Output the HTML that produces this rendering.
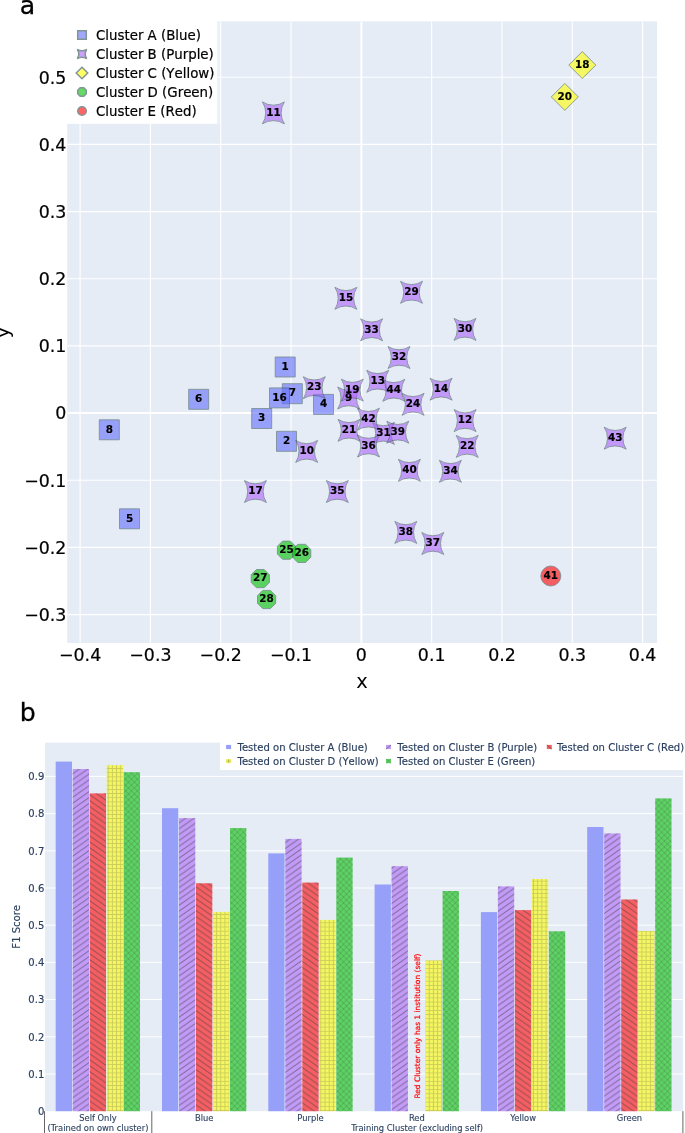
<!DOCTYPE html>
<html lang="en"><head><meta charset="utf-8"><title>Cluster figure</title>
<style>html,body{margin:0;padding:0;background:#fff}body{width:685px;height:1133px;overflow:hidden}svg{display:block}text{font-family:"DejaVu Sans","Liberation Sans",sans-serif}.pl{font-size:25.2px;fill:#000;stroke:#000;stroke-width:0.3px}.ta{font-size:17.4px;fill:#000;stroke:#000;stroke-width:0.2px}.tt{font-size:19.5px;fill:#000}.la{font-size:13.35px;fill:#000;font-kerning:none;stroke:#000;stroke-width:0.2px}.ml{font-size:10.4px;font-weight:bold;fill:#000;text-anchor:middle;stroke:#000;stroke-width:0.15px}.tb{font-size:10.05px;fill:#2a3f5f;stroke:#2a3f5f;stroke-width:0.15px}.xb{font-size:8.35px;fill:#2a3f5f;text-anchor:middle;stroke:#2a3f5f;stroke-width:0.12px}.an{font-size:7.46px;fill:#ff0000;stroke:#ff0000;stroke-width:0.18px}</style></head><body>
<svg width="685" height="1133" viewBox="0 0 685 1133">
<rect width="685" height="1133" fill="#fff"/>
<defs>
<clipPath id="ca"><rect x="67.2" y="21.4" width="589.8" height="621.6"/></clipPath>
<pattern id="p1" patternUnits="userSpaceOnUse" width="8.4" height="5.89" x="5.80" y="1.92"><path d="M-2.1,1.47l4.2,-2.94M0,5.89L8.4,0M6.3,7.36l4.2,-2.94" stroke="#444" stroke-opacity="0.6" stroke-width="1" fill="none"/></pattern>
<pattern id="p2" patternUnits="userSpaceOnUse" width="8.4" height="5.89" x="6.20" y="5.81"><path d="M6.3,-1.47l4.2,2.94M0,0L8.4,5.89M-2.1,4.42l4.2,2.94" stroke="#444" stroke-opacity="0.6" stroke-width="1" fill="none"/></pattern>
<pattern id="p3" patternUnits="userSpaceOnUse" width="4.17" height="4.17" x="1.85" y="3.34"><path d="M2.085,0V4.17M0,2.085H4.17" stroke="#444" stroke-opacity="0.24" stroke-width="1" fill="none"/></pattern>
<pattern id="p4" patternUnits="userSpaceOnUse" width="5.89" height="5.89" x="1.87" y="1.75"><path d="M0,0L5.89,5.89M0,5.89L5.89,0" stroke="#444" stroke-opacity="0.42" stroke-width="0.65" fill="none"/></pattern>
</defs>
<text class="pl" x="19.7" y="13.7">a</text>
<text class="pl" x="19.7" y="721.4">b</text>
<rect x="67.2" y="21.4" width="589.8" height="621.6" fill="#E5ECF6"/>
<g stroke="#fff" stroke-width="1.1" clip-path="url(#ca)">
<line x1="80.1" x2="80.1" y1="21.4" y2="643.0"/>
<line x1="150.4" x2="150.4" y1="21.4" y2="643.0"/>
<line x1="220.7" x2="220.7" y1="21.4" y2="643.0"/>
<line x1="291.05" x2="291.05" y1="21.4" y2="643.0"/>
<line x1="431.66" x2="431.66" y1="21.4" y2="643.0"/>
<line x1="501.97" x2="501.97" y1="21.4" y2="643.0"/>
<line x1="572.3" x2="572.3" y1="21.4" y2="643.0"/>
<line x1="642.6" x2="642.6" y1="21.4" y2="643.0"/>
<line x1="67.2" x2="657.0" y1="77.3" y2="77.3"/>
<line x1="67.2" x2="657.0" y1="144.4" y2="144.4"/>
<line x1="67.2" x2="657.0" y1="211.6" y2="211.6"/>
<line x1="67.2" x2="657.0" y1="278.8" y2="278.8"/>
<line x1="67.2" x2="657.0" y1="345.9" y2="345.9"/>
<line x1="67.2" x2="657.0" y1="480.2" y2="480.2"/>
<line x1="67.2" x2="657.0" y1="547.4" y2="547.4"/>
<line x1="67.2" x2="657.0" y1="614.6" y2="614.6"/>
<line x1="361.4" x2="361.4" y1="21.4" y2="643.0" stroke-width="2"/>
<line x1="67.2" x2="657.0" y1="412.9" y2="412.9" stroke-width="2"/>
</g>
<g fill="#636EFA" stroke="#2F4F4F" stroke-width="0.85">
<path transform="translate(285.2,367.0)" d="M10,10H-10V-10H10Z" opacity="0.6"/>
<path transform="translate(286.5,441.3)" d="M10,10H-10V-10H10Z" opacity="0.6"/>
<path transform="translate(261.7,418.5)" d="M10,10H-10V-10H10Z" opacity="0.6"/>
<path transform="translate(323.5,404.4)" d="M10,10H-10V-10H10Z" opacity="0.6"/>
<path transform="translate(129.5,518.8)" d="M10,10H-10V-10H10Z" opacity="0.6"/>
<path transform="translate(198.7,399.3)" d="M10,10H-10V-10H10Z" opacity="0.6"/>
<path transform="translate(292.3,393.7)" d="M10,10H-10V-10H10Z" opacity="0.6"/>
<path transform="translate(109.3,429.8)" d="M10,10H-10V-10H10Z" opacity="0.6"/>
<path transform="translate(279.5,397.9)" d="M10,10H-10V-10H10Z" opacity="0.6"/>
</g>
<g class="ml">
<text x="285.2" y="369.75">1</text>
<text x="286.5" y="444.05">2</text>
<text x="261.7" y="421.25">3</text>
<text x="323.5" y="407.15">4</text>
<text x="129.5" y="521.55">5</text>
<text x="198.7" y="402.05">6</text>
<text x="292.3" y="396.45">7</text>
<text x="109.3" y="432.55">8</text>
<text x="279.5" y="400.65">16</text>
</g>
<g fill="#AB63FA" stroke="#2F4F4F" stroke-width="0.85">
<path transform="translate(348.7,398.0)" d="M-11,-11A20,20 0 0 1 -11,11A20,20 0 0 1 11,11A20,20 0 0 1 11,-11A20,20 0 0 1 -11,-11Z" opacity="0.6"/>
<path transform="translate(306.7,451.4)" d="M-11,-11A20,20 0 0 1 -11,11A20,20 0 0 1 11,11A20,20 0 0 1 11,-11A20,20 0 0 1 -11,-11Z" opacity="0.6"/>
<path transform="translate(273.4,112.9)" d="M-11,-11A20,20 0 0 1 -11,11A20,20 0 0 1 11,11A20,20 0 0 1 11,-11A20,20 0 0 1 -11,-11Z" opacity="0.6"/>
<path transform="translate(465.1,420.6)" d="M-11,-11A20,20 0 0 1 -11,11A20,20 0 0 1 11,11A20,20 0 0 1 11,-11A20,20 0 0 1 -11,-11Z" opacity="0.6"/>
<path transform="translate(377.7,381.3)" d="M-11,-11A20,20 0 0 1 -11,11A20,20 0 0 1 11,11A20,20 0 0 1 11,-11A20,20 0 0 1 -11,-11Z" opacity="0.6"/>
<path transform="translate(441.1,389.2)" d="M-11,-11A20,20 0 0 1 -11,11A20,20 0 0 1 11,11A20,20 0 0 1 11,-11A20,20 0 0 1 -11,-11Z" opacity="0.6"/>
<path transform="translate(345.9,298.3)" d="M-11,-11A20,20 0 0 1 -11,11A20,20 0 0 1 11,11A20,20 0 0 1 11,-11A20,20 0 0 1 -11,-11Z" opacity="0.6"/>
<path transform="translate(255.4,491.5)" d="M-11,-11A20,20 0 0 1 -11,11A20,20 0 0 1 11,11A20,20 0 0 1 11,-11A20,20 0 0 1 -11,-11Z" opacity="0.6"/>
<path transform="translate(352.3,390.1)" d="M-11,-11A20,20 0 0 1 -11,11A20,20 0 0 1 11,11A20,20 0 0 1 11,-11A20,20 0 0 1 -11,-11Z" opacity="0.6"/>
<path transform="translate(349.0,430.3)" d="M-11,-11A20,20 0 0 1 -11,11A20,20 0 0 1 11,11A20,20 0 0 1 11,-11A20,20 0 0 1 -11,-11Z" opacity="0.6"/>
<path transform="translate(467.2,446.4)" d="M-11,-11A20,20 0 0 1 -11,11A20,20 0 0 1 11,11A20,20 0 0 1 11,-11A20,20 0 0 1 -11,-11Z" opacity="0.6"/>
<path transform="translate(314.3,387.7)" d="M-11,-11A20,20 0 0 1 -11,11A20,20 0 0 1 11,11A20,20 0 0 1 11,-11A20,20 0 0 1 -11,-11Z" opacity="0.6"/>
<path transform="translate(413.1,404.3)" d="M-11,-11A20,20 0 0 1 -11,11A20,20 0 0 1 11,11A20,20 0 0 1 11,-11A20,20 0 0 1 -11,-11Z" opacity="0.6"/>
<path transform="translate(411.5,292.3)" d="M-11,-11A20,20 0 0 1 -11,11A20,20 0 0 1 11,11A20,20 0 0 1 11,-11A20,20 0 0 1 -11,-11Z" opacity="0.6"/>
<path transform="translate(465.0,329.4)" d="M-11,-11A20,20 0 0 1 -11,11A20,20 0 0 1 11,11A20,20 0 0 1 11,-11A20,20 0 0 1 -11,-11Z" opacity="0.6"/>
<path transform="translate(383.4,433.4)" d="M-11,-11A20,20 0 0 1 -11,11A20,20 0 0 1 11,11A20,20 0 0 1 11,-11A20,20 0 0 1 -11,-11Z" opacity="0.6"/>
<path transform="translate(399.0,357.5)" d="M-11,-11A20,20 0 0 1 -11,11A20,20 0 0 1 11,11A20,20 0 0 1 11,-11A20,20 0 0 1 -11,-11Z" opacity="0.6"/>
<path transform="translate(371.6,329.8)" d="M-11,-11A20,20 0 0 1 -11,11A20,20 0 0 1 11,11A20,20 0 0 1 11,-11A20,20 0 0 1 -11,-11Z" opacity="0.6"/>
<path transform="translate(450.4,471.3)" d="M-11,-11A20,20 0 0 1 -11,11A20,20 0 0 1 11,11A20,20 0 0 1 11,-11A20,20 0 0 1 -11,-11Z" opacity="0.6"/>
<path transform="translate(337.3,491.5)" d="M-11,-11A20,20 0 0 1 -11,11A20,20 0 0 1 11,11A20,20 0 0 1 11,-11A20,20 0 0 1 -11,-11Z" opacity="0.6"/>
<path transform="translate(368.5,446.0)" d="M-11,-11A20,20 0 0 1 -11,11A20,20 0 0 1 11,11A20,20 0 0 1 11,-11A20,20 0 0 1 -11,-11Z" opacity="0.6"/>
<path transform="translate(432.8,543.5)" d="M-11,-11A20,20 0 0 1 -11,11A20,20 0 0 1 11,11A20,20 0 0 1 11,-11A20,20 0 0 1 -11,-11Z" opacity="0.6"/>
<path transform="translate(405.8,532.4)" d="M-11,-11A20,20 0 0 1 -11,11A20,20 0 0 1 11,11A20,20 0 0 1 11,-11A20,20 0 0 1 -11,-11Z" opacity="0.6"/>
<path transform="translate(397.8,432.2)" d="M-11,-11A20,20 0 0 1 -11,11A20,20 0 0 1 11,11A20,20 0 0 1 11,-11A20,20 0 0 1 -11,-11Z" opacity="0.6"/>
<path transform="translate(409.4,470.3)" d="M-11,-11A20,20 0 0 1 -11,11A20,20 0 0 1 11,11A20,20 0 0 1 11,-11A20,20 0 0 1 -11,-11Z" opacity="0.6"/>
<path transform="translate(368.4,419.2)" d="M-11,-11A20,20 0 0 1 -11,11A20,20 0 0 1 11,11A20,20 0 0 1 11,-11A20,20 0 0 1 -11,-11Z" opacity="0.6"/>
<path transform="translate(615.2,438.2)" d="M-11,-11A20,20 0 0 1 -11,11A20,20 0 0 1 11,11A20,20 0 0 1 11,-11A20,20 0 0 1 -11,-11Z" opacity="0.6"/>
<path transform="translate(393.8,390.3)" d="M-11,-11A20,20 0 0 1 -11,11A20,20 0 0 1 11,11A20,20 0 0 1 11,-11A20,20 0 0 1 -11,-11Z" opacity="0.6"/>
</g>
<g class="ml">
<text x="348.7" y="400.75">9</text>
<text x="306.7" y="454.15">10</text>
<text x="273.4" y="115.65">11</text>
<text x="465.1" y="423.35">12</text>
<text x="377.7" y="384.05">13</text>
<text x="441.1" y="391.95">14</text>
<text x="345.9" y="301.05">15</text>
<text x="255.4" y="494.25">17</text>
<text x="352.3" y="392.85">19</text>
<text x="349.0" y="433.05">21</text>
<text x="467.2" y="449.15">22</text>
<text x="314.3" y="390.45">23</text>
<text x="413.1" y="407.05">24</text>
<text x="411.5" y="295.05">29</text>
<text x="465.0" y="332.15">30</text>
<text x="383.4" y="436.15">31</text>
<text x="399.0" y="360.25">32</text>
<text x="371.6" y="332.55">33</text>
<text x="450.4" y="474.05">34</text>
<text x="337.3" y="494.25">35</text>
<text x="368.5" y="448.75">36</text>
<text x="432.8" y="546.25">37</text>
<text x="405.8" y="535.15">38</text>
<text x="397.8" y="434.95">39</text>
<text x="409.4" y="473.05">40</text>
<text x="368.4" y="421.95">42</text>
<text x="615.2" y="440.95">43</text>
<text x="393.8" y="393.05">44</text>
</g>
<g fill="#FFFF00" stroke="#2F4F4F" stroke-width="0.85">
<path transform="translate(582.3,65.05)" d="M13.5,0L0,13.5L-13.5,0L0,-13.5Z" opacity="0.6"/>
<path transform="translate(564.8,96.9)" d="M13.5,0L0,13.5L-13.5,0L0,-13.5Z" opacity="0.6"/>
</g>
<g class="ml">
<text x="582.3" y="67.8">18</text>
<text x="564.8" y="99.65">20</text>
</g>
<g fill="#00C000" stroke="#2F4F4F" stroke-width="0.85">
<path transform="translate(286.5,550.2)" d="M-3.86,-9.1H3.86L9.1,-3.86V3.86L3.86,9.1H-3.86L-9.1,3.86V-3.86Z" opacity="0.6"/>
<path transform="translate(301.7,553.4)" d="M-3.86,-9.1H3.86L9.1,-3.86V3.86L3.86,9.1H-3.86L-9.1,3.86V-3.86Z" opacity="0.6"/>
<path transform="translate(260.3,578.6)" d="M-3.86,-9.1H3.86L9.1,-3.86V3.86L3.86,9.1H-3.86L-9.1,3.86V-3.86Z" opacity="0.6"/>
<path transform="translate(266.6,599.5)" d="M-3.86,-9.1H3.86L9.1,-3.86V3.86L3.86,9.1H-3.86L-9.1,3.86V-3.86Z" opacity="0.6"/>
</g>
<g class="ml">
<text x="286.5" y="552.95">25</text>
<text x="301.7" y="556.15">26</text>
<text x="260.3" y="581.35">27</text>
<text x="266.6" y="602.25">28</text>
</g>
<g fill="#FF0000" stroke="#2F4F4F" stroke-width="0.85">
<path transform="translate(550.8,576.0)" d="M10,0A10,10 0 1 1 0,-10A10,10 0 0 1 10,0Z" opacity="0.6"/>
</g>
<g class="ml">
<text x="550.8" y="578.75">41</text>
</g>
<g class="ta" text-anchor="end">
<text x="66.4" y="83.85">0.5</text>
<text x="66.4" y="150.95">0.4</text>
<text x="66.4" y="218.15">0.3</text>
<text x="66.4" y="285.35">0.2</text>
<text x="66.4" y="352.45">0.1</text>
<text x="66.4" y="419.45">0</text>
<text x="66.4" y="486.75">−0.1</text>
<text x="66.4" y="553.95">−0.2</text>
<text x="66.4" y="621.15">−0.3</text>
</g>
<g class="ta" text-anchor="middle">
<text x="80.1" y="661">−0.4</text>
<text x="150.4" y="661">−0.3</text>
<text x="220.7" y="661">−0.2</text>
<text x="291.05" y="661">−0.1</text>
<text x="361.4" y="661">0</text>
<text x="431.66" y="661">0.1</text>
<text x="501.97" y="661">0.2</text>
<text x="572.3" y="661">0.3</text>
<text x="642.6" y="661">0.4</text>
</g>
<text class="tt" text-anchor="middle" x="362" y="688">x</text>
<text class="tt" text-anchor="middle" transform="translate(8.8,332.4) rotate(-90)">y</text>
<rect x="66.6" y="20.8" width="150.6" height="103" fill="#fff"/>
<rect x="217.2" y="21.4" width="2.8" height="102.4" fill="#fff" opacity="0.25"/>
<path transform="translate(82,35)" d="M4.3,4.3H-4.3V-4.3H4.3Z" fill="#636EFA" stroke="#2F4F4F" stroke-width="1.5" opacity="0.6"/>
<text class="la" x="96.0" y="39.75">Cluster A (Blue)</text>
<path transform="translate(82,54)" d="M-4.73,-4.73A8.6,8.6 0 0 1 -4.73,4.73A8.6,8.6 0 0 1 4.73,4.73A8.6,8.6 0 0 1 4.73,-4.73A8.6,8.6 0 0 1 -4.73,-4.73Z" fill="#AB63FA" stroke="#2F4F4F" stroke-width="1.5" opacity="0.6"/>
<text class="la" x="96.0" y="58.75">Cluster B (Purple)</text>
<path transform="translate(82,73)" d="M5.8,0L0,5.8L-5.8,0L0,-5.8Z" fill="#FFFF00" stroke="#2F4F4F" stroke-width="1.5" opacity="0.6"/>
<text class="la" x="96.0" y="77.75">Cluster C (Yellow)</text>
<path transform="translate(82,92)" d="M-1.81,-4.28H1.81L4.28,-1.81V1.81L1.81,4.28H-1.81L-4.28,1.81V-1.81Z" fill="#00C000" stroke="#2F4F4F" stroke-width="1.5" opacity="0.6"/>
<text class="la" x="96.0" y="96.75">Cluster D (Green)</text>
<path transform="translate(82,111)" d="M4.3,0A4.3,4.3 0 1 1 0,-4.3A4.3,4.3 0 0 1 4.3,0Z" fill="#FF0000" stroke="#2F4F4F" stroke-width="1.5" opacity="0.6"/>
<text class="la" x="96.0" y="115.75">Cluster E (Red)</text>
<rect x="45.1" y="742.6" width="637.8" height="368.6" fill="#E5ECF6"/>
<g stroke="#fff" stroke-width="1">
<line x1="45.1" x2="682.9" y1="1074" y2="1074"/>
<line x1="45.1" x2="682.9" y1="1036.8" y2="1036.8"/>
<line x1="45.1" x2="682.9" y1="999.6" y2="999.6"/>
<line x1="45.1" x2="682.9" y1="962.4" y2="962.4"/>
<line x1="45.1" x2="682.9" y1="925.2" y2="925.2"/>
<line x1="45.1" x2="682.9" y1="888" y2="888"/>
<line x1="45.1" x2="682.9" y1="850.8" y2="850.8"/>
<line x1="45.1" x2="682.9" y1="813.6" y2="813.6"/>
<line x1="45.1" x2="682.9" y1="776.4" y2="776.4"/>
</g>
<g>
<rect x="55.68" y="761.6" width="16.3" height="349.6" fill="#97a0f8"/>
<rect x="72.69" y="769.0" width="16.3" height="342.2" fill="#c29af8"/>
<rect x="72.69" y="769.0" width="16.3" height="342.2" fill="url(#p1)"/>
<rect x="89.7" y="793.4" width="16.3" height="317.8" fill="#f55e62"/>
<rect x="89.7" y="793.4" width="16.3" height="317.8" fill="url(#p2)"/>
<rect x="106.7" y="765.1" width="16.3" height="346.1" fill="#f5f762"/>
<rect x="106.7" y="765.1" width="16.3" height="346.1" fill="url(#p3)"/>
<rect x="123.71" y="772.1999999999999" width="16.3" height="339" fill="#5cd262"/>
<rect x="123.71" y="772.1999999999999" width="16.3" height="339" fill="url(#p4)"/>
<rect x="161.98" y="808.1999999999999" width="16.3" height="303" fill="#97a0f8"/>
<rect x="178.99" y="818.1" width="16.3" height="293.1" fill="#c29af8"/>
<rect x="178.99" y="818.1" width="16.3" height="293.1" fill="url(#p1)"/>
<rect x="196" y="883.3" width="16.3" height="227.9" fill="#f55e62"/>
<rect x="196" y="883.3" width="16.3" height="227.9" fill="url(#p2)"/>
<rect x="213" y="911.9" width="16.3" height="199.3" fill="#f5f762"/>
<rect x="213" y="911.9" width="16.3" height="199.3" fill="url(#p3)"/>
<rect x="230.01" y="828.1" width="16.3" height="283.1" fill="#5cd262"/>
<rect x="230.01" y="828.1" width="16.3" height="283.1" fill="url(#p4)"/>
<rect x="268.28" y="853.4" width="16.3" height="257.8" fill="#97a0f8"/>
<rect x="285.29" y="838.9" width="16.3" height="272.3" fill="#c29af8"/>
<rect x="285.29" y="838.9" width="16.3" height="272.3" fill="url(#p1)"/>
<rect x="302.3" y="882.6" width="16.3" height="228.6" fill="#f55e62"/>
<rect x="302.3" y="882.6" width="16.3" height="228.6" fill="url(#p2)"/>
<rect x="319.3" y="919.9" width="16.3" height="191.3" fill="#f5f762"/>
<rect x="319.3" y="919.9" width="16.3" height="191.3" fill="url(#p3)"/>
<rect x="336.31" y="857.6" width="16.3" height="253.6" fill="#5cd262"/>
<rect x="336.31" y="857.6" width="16.3" height="253.6" fill="url(#p4)"/>
<rect x="374.58" y="884.5" width="16.3" height="226.7" fill="#97a0f8"/>
<rect x="391.59" y="866.1999999999999" width="16.3" height="245" fill="#c29af8"/>
<rect x="391.59" y="866.1999999999999" width="16.3" height="245" fill="url(#p1)"/>
<rect x="425.6" y="960.4" width="16.3" height="150.8" fill="#f5f762"/>
<rect x="425.6" y="960.4" width="16.3" height="150.8" fill="url(#p3)"/>
<rect x="442.61" y="891.0" width="16.3" height="220.2" fill="#5cd262"/>
<rect x="442.61" y="891.0" width="16.3" height="220.2" fill="url(#p4)"/>
<rect x="480.88" y="912.1" width="16.3" height="199.1" fill="#97a0f8"/>
<rect x="497.89" y="886.4" width="16.3" height="224.8" fill="#c29af8"/>
<rect x="497.89" y="886.4" width="16.3" height="224.8" fill="url(#p1)"/>
<rect x="514.9" y="910.1" width="16.3" height="201.1" fill="#f55e62"/>
<rect x="514.9" y="910.1" width="16.3" height="201.1" fill="url(#p2)"/>
<rect x="531.9" y="879.0" width="16.3" height="232.2" fill="#f5f762"/>
<rect x="531.9" y="879.0" width="16.3" height="232.2" fill="url(#p3)"/>
<rect x="548.91" y="931.3" width="16.3" height="179.9" fill="#5cd262"/>
<rect x="548.91" y="931.3" width="16.3" height="179.9" fill="url(#p4)"/>
<rect x="587.18" y="827.0" width="16.3" height="284.2" fill="#97a0f8"/>
<rect x="604.19" y="833.4" width="16.3" height="277.8" fill="#c29af8"/>
<rect x="604.19" y="833.4" width="16.3" height="277.8" fill="url(#p1)"/>
<rect x="621.2" y="899.5" width="16.3" height="211.7" fill="#f55e62"/>
<rect x="621.2" y="899.5" width="16.3" height="211.7" fill="url(#p2)"/>
<rect x="638.2" y="931.0" width="16.3" height="180.2" fill="#f5f762"/>
<rect x="638.2" y="931.0" width="16.3" height="180.2" fill="url(#p3)"/>
<rect x="655.21" y="798.4" width="16.3" height="312.8" fill="#5cd262"/>
<rect x="655.21" y="798.4" width="16.3" height="312.8" fill="url(#p4)"/>
</g>
<g class="tb" text-anchor="end">
<text x="44.3" y="1114.9">0</text>
<text x="44.3" y="1077.7">0.1</text>
<text x="44.3" y="1040.5">0.2</text>
<text x="44.3" y="1003.3">0.3</text>
<text x="44.3" y="966.1">0.4</text>
<text x="44.3" y="928.9">0.5</text>
<text x="44.3" y="891.7">0.6</text>
<text x="44.3" y="854.5">0.7</text>
<text x="44.3" y="817.3">0.8</text>
<text x="44.3" y="780.1">0.9</text>
</g>
<text class="tb" text-anchor="middle" transform="translate(20.4,926.9) rotate(-90)">F1 Score</text>
<g class="xb">
<text x="97.95" y="1120.7">Self Only</text>
<text x="204.25" y="1120.7">Blue</text>
<text x="310.55" y="1120.7">Purple</text>
<text x="416.85" y="1120.7">Red</text>
<text x="523.15" y="1120.7">Yellow</text>
<text x="629.45" y="1120.7">Green</text>
<text x="97.95" y="1131.3">(Trained on own cluster)</text>
<text x="417.15" y="1131.3">Training Cluster (excluding self)</text>
</g>
<g stroke="#555" stroke-width="0.9">
<line x1="44.5" x2="44.5" y1="1111.2" y2="1133"/>
<line x1="151.8" x2="151.8" y1="1111.2" y2="1133"/>
<line x1="682.9" x2="682.9" y1="1111.2" y2="1133"/>
</g>
<text class="an" transform="translate(419.7,1098.6) rotate(-90)">Red Cluster only has 1 institution (self)</text>
<rect x="220" y="741.9" width="465" height="28.1" fill="#fff"/>
<rect x="226.1" y="744.9" width="5" height="4.2" fill="#97a0f8"/>
<text class="tb" x="237.5" y="751.3">Tested on Cluster A (Blue)</text>
<rect x="386" y="744.9" width="5" height="4.2" fill="#c29af8"/>
<path d="M386,749.1L391,744.9" stroke="#444" stroke-opacity="0.55" stroke-width="1"/>
<text class="tb" x="397.3" y="751.3">Tested on Cluster B (Purple)</text>
<rect x="546.8" y="744.9" width="5" height="4.2" fill="#f55e62"/>
<path d="M546.8,744.9L551.8,749.1" stroke="#444" stroke-opacity="0.55" stroke-width="1"/>
<text class="tb" x="556.9" y="751.3">Tested on Cluster C (Red)</text>
<rect x="226.1" y="759" width="5" height="4.2" fill="#f5f762"/>
<path d="M228.6,759V763.2M226.1,761.1H231.1" stroke="#444" stroke-opacity="0.25" stroke-width="1"/>
<text class="tb" x="237.5" y="765.4">Tested on Cluster D (<tspan style="font-kerning:none">Yellow</tspan>)</text>
<rect x="386" y="759" width="5" height="4.2" fill="#5cd262"/>
<path d="M386.4,759L390.6,763.2M386.4,763.2L390.6,759" stroke="#444" stroke-opacity="0.4" stroke-width="0.65"/>
<text class="tb" x="397.3" y="765.4">Tested on Cluster E (Green)</text>
</svg></body></html>
